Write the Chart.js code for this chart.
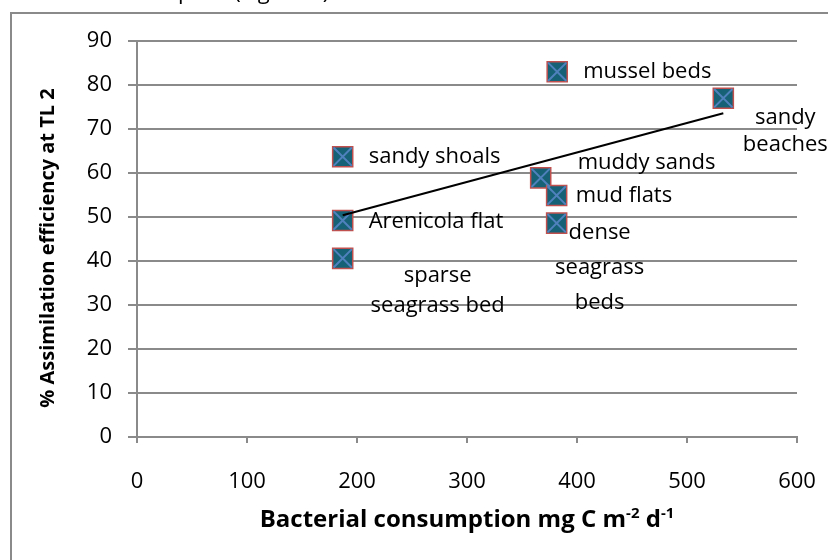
<!DOCTYPE html>
<html>
<head>
<meta charset="utf-8">
<script src="https://cdn.jsdelivr.net/npm/chart.js@4.4.1/dist/chart.umd.min.js"></script>
<style>
  html, body { margin: 0; padding: 0; background: #fff; }
  #wrap { width: 828px; height: 560px; position: relative; }
</style>
</head>
<body>
<div id="wrap"><canvas id="chart" width="828" height="560"></canvas></div>
<script>
// habitat points
const habitats = ['mussel beds', 'sandy beaches', 'sandy shoals', 'Arenicola flat',
  'sparse seagrass bed', 'muddy sands', 'mud flats', 'dense seagrass beds'];
const consumption = [382, 533, 187, 187, 187, 367, 381.5, 381.5];
const efficiency = [83.0, 77.0, 63.7, 49.2, 40.6, 58.9, 54.9, 48.6];

// linear trend line ends
const trendX = [187, 533];
const trendY = [50.4, 73.6];

const xTicks = [0, 100, 200, 300, 400, 500, 600];
const yTicks = [0, 10, 20, 30, 40, 50, 60, 70, 80, 90];

const FONT = '"Open Sans"';

// label placement per point: dx, dy of each line, align
const labelLayout = [
  { dx: 26, dy: [0], align: 'left' },
  { dx: 62, dy: [20, 47], align: 'center', lines: ['sandy', 'beaches'] },
  { dx: 26, dy: [0], align: 'left' },
  { dx: 26, dy: [1], align: 'left' },
  { dx: 95, dy: [17, 47], align: 'center', lines: ['sparse', 'seagrass bed'] },
  { dx: 37, dy: [-15], align: 'left' },
  { dx: 19, dy: [0], align: 'left' },
  { dx: 43, dy: [10, 45, 80], align: 'center', lines: ['dense', 'seagrass', 'beds'] }
];

const frame = {
  id: 'frame',
  beforeDraw(chart) {
    const ctx = chart.ctx;
    ctx.save();
    ctx.fillStyle = '#fff';
    ctx.fillRect(0, 0, chart.width, chart.height);
    // bit of body text cut off above the chart
    ctx.fillStyle = '#000';
    ctx.font = '22px ' + FONT;
    ctx.textBaseline = 'alphabetic';
    ctx.fillText('plots (Figure 8)', 178, -1);
    ctx.strokeStyle = '#8a8a8a';
    ctx.lineWidth = 2;
    ctx.beginPath();
    ctx.moveTo(11, 560);
    ctx.lineTo(11, 13);
    ctx.lineTo(828, 13);
    ctx.stroke();
    ctx.restore();
  },
  afterDatasetsDraw(chart) {
    const ctx = chart.ctx;
    const pts = chart.getDatasetMeta(1).data;
    ctx.save();
    ctx.fillStyle = '#000';
    ctx.font = '22px ' + FONT;
    ctx.textBaseline = 'middle';
    pts.forEach((p, i) => {
      const l = labelLayout[i];
      const lines = l.lines || [habitats[i]];
      ctx.textAlign = l.align;
      lines.forEach((t, k) => ctx.fillText(t, p.x + l.dx, p.y + l.dy[k]));
    });

    // axis titles
    ctx.textAlign = 'left';
    ctx.textBaseline = 'alphabetic';
    const parts = [['Bacterial consumption mg C m', 0], ['-2', 1], [' d', 0], ['-1', 1]];
    const fnt = sup => (sup ? 'bold 15px ' : 'bold 24px ') + FONT;
    let total = 0;
    parts.forEach(([t, sup]) => {
      ctx.font = fnt(sup);
      total += ctx.measureText(t).width;
    });
    let x = 467 - total / 2;
    parts.forEach(([t, sup]) => {
      ctx.font = fnt(sup);
      ctx.fillText(t, x, sup ? 518 : 527);
      x += ctx.measureText(t).width;
    });

    ctx.translate(48, 248);
    ctx.rotate(-Math.PI / 2);
    ctx.font = 'bold 20px ' + FONT;
    ctx.textAlign = 'center';
    ctx.textBaseline = 'middle';
    ctx.fillText('% Assimilation efficiency at TL 2', 0, 0);
    ctx.restore();
  }
};

const pts = consumption.map((v, i) => ({ x: v, y: efficiency[i] }));

new Chart(document.getElementById('chart'), {
  type: 'scatter',
  data: {
    datasets: [
      {
        data: trendX.map((v, i) => ({ x: v, y: trendY[i] })),
        showLine: true,
        borderColor: '#000',
        borderWidth: 2,
        pointRadius: 0,
        order: 0
      },
      {
        data: pts,
        pointStyle: 'rect',
        pointRadius: 14.2,
        pointHoverRadius: 14.2,
        backgroundColor: '#176176',
        borderColor: '#c0504d',
        borderWidth: 1.5,
        order: 2
      },
      {
        data: pts,
        pointStyle: 'crossRot',
        pointRadius: 13,
        pointHoverRadius: 13,
        borderColor: '#4f81bd',
        borderWidth: 2,
        order: 1
      }
    ]
  },
  options: {
    responsive: false,
    animation: false,
    events: [],
    layout: { padding: { left: 0, top: 41, right: 31, bottom: 0 } },
    plugins: { legend: { display: false }, tooltip: { enabled: false } },
    scales: {
      x: {
        type: 'linear',
        min: 0, max: 600,
        afterBuildTicks: s => { s.ticks = xTicks.map(v => ({ value: v })); },
        afterFit: s => { s.height = 123; s.paddingRight = 0; s.paddingLeft = 0; },
        grid: { drawOnChartArea: false, drawTicks: true, tickLength: 6, color: '#8a8a8a', lineWidth: 2 },
        border: { color: '#8a8a8a', width: 2 },
        ticks: { color: '#000', font: { family: 'Open Sans', size: 22 }, padding: 26, maxRotation: 0 }
      },
      y: {
        type: 'linear',
        min: 0, max: 90,
        afterBuildTicks: s => { s.ticks = yTicks.map(v => ({ value: v })); },
        afterFit: s => { s.width = 137; },
        grid: { color: '#8a8a8a', lineWidth: 2, tickLength: 9 },
        border: { color: '#8a8a8a', width: 2 },
        ticks: { color: '#000', font: { family: 'Open Sans', size: 22 }, padding: 16 }
      }
    }
  },
  plugins: [frame]
});
</script>
</body>
</html>
